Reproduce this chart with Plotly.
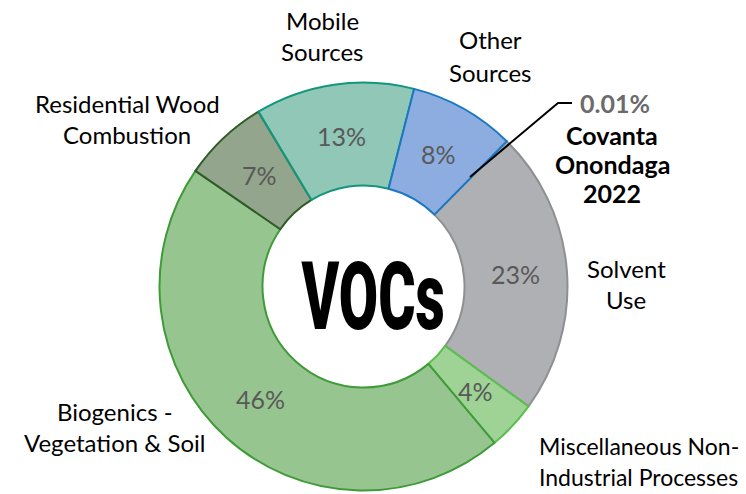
import math
import plotly.graph_objects as go

labels = ["Covanta Onondaga 2022", "Solvent Use", "Miscellaneous Non-Industrial Processes",
          "Biogenics - Vegetation & Soil", "Residential Wood Combustion", "Mobile Sources", "Other Sources"]
values = [0.01, 22.6, 3.9, 45.7, 6.8, 12.6, 8.4]
show_pct = [False, True, True, True, True, True, True]
fill_colors = ["#8C8C8C", "#AFB0B4", "#9ED395", "#97C590", "#93A58C", "#90C7B6", "#8DADE0"]
line_colors = ["#8C8C8C", "#8E8F93", "#5BBF4F", "#3E9B37", "#2E5B28", "#12977C", "#1A78C2"]

W, H = 746, 494
cx, cy, R = 363.5, 286.5, 204
HOLE = 0.495
START = 44.6

fig = go.Figure(go.Pie(
    labels=labels, values=values, sort=False, direction="clockwise", rotation=START,
    hole=HOLE,
    marker=dict(colors=fill_colors, line=dict(color=line_colors, width=2)),
    textinfo="none",
    domain=dict(x=[(cx - R) / W, (cx + R) / W], y=[(H - cy - R) / H, (H - cy + R) / H]),
    showlegend=False, hoverinfo="label+percent",
))

def px(x, y):
    return x / W, 1 - y / H

annots = []
def add(text, x, y, size=24, color="black", bold=False, xanchor="center", family="Lato", weight=None):
    ax, ay = px(x, y)
    annots.append(dict(text=text, x=ax, y=ay, xref="paper", yref="paper", showarrow=False,
                       xanchor=xanchor, yanchor="middle",
                       font=dict(family=family, size=size, color=color,
                                 weight=weight if weight else ("bold" if bold else "normal"))))

# percentage labels at the middle of the ring, derived from the values
total = sum(values)
r_mid = R * (1 + HOLE) / 2
cum = 0.0
for v, show in zip(values, show_pct):
    mid = math.radians(START + 360 * (cum + v / 2) / total)
    cum += v
    if show:
        add(f"{round(100 * v / total)}%", cx + r_mid * math.sin(mid), cy - r_mid * math.cos(mid),
            size=25, color="#595959")

add("Mobile", 322, 20)
add("Sources", 322, 51)
add("Other", 490, 40)
add("Sources", 490, 72)
add("Residential Wood", 127, 103)
add("Combustion", 127, 134)
add("Solvent", 626, 268)
add("Use", 626, 299)
add("Biogenics -", 115, 411)
add("Vegetation & Soil", 115, 442)
add("Miscellaneous Non-", 537, 446, size=23, xanchor="left")
add("Industrial Processes", 537, 477, size=23, xanchor="left")
add("0.01%", 578, 103, size=25, color="#6B6B6B", bold=True, xanchor="left")
add("Covanta", 612, 135, size=25, bold=True)
add("Onondaga", 612, 164, size=25, bold=True)
add("2022", 612, 193, size=25, bold=True)
add("VOCs", 373, 296, size=95, family="Roboto", weight=900)

x0, y0 = px(470, 177)
x1, y1 = px(558, 103)
x2, y2 = px(572, 103)
fig.add_shape(type="path", xref="paper", yref="paper",
              path=f"M {x0} {y0} L {x1} {y1} L {x2} {y2}",
              line=dict(color="black", width=2))

fig.update_layout(width=W, height=H, margin=dict(l=0, r=0, t=0, b=0),
                  paper_bgcolor="white", plot_bgcolor="white", annotations=annots)

post = """
document.body.style.margin = '0';
document.querySelectorAll('text.annotation-text').forEach(function (t) {
  if (t.textContent === 'VOCs') {
    t.style.transformBox = 'fill-box';
    t.style.transformOrigin = 'center';
    t.style.transform = 'scaleX(0.6)';
  }
});
"""
fig.write_html("out.html", post_script=post, config={"displayModeBar": False})
